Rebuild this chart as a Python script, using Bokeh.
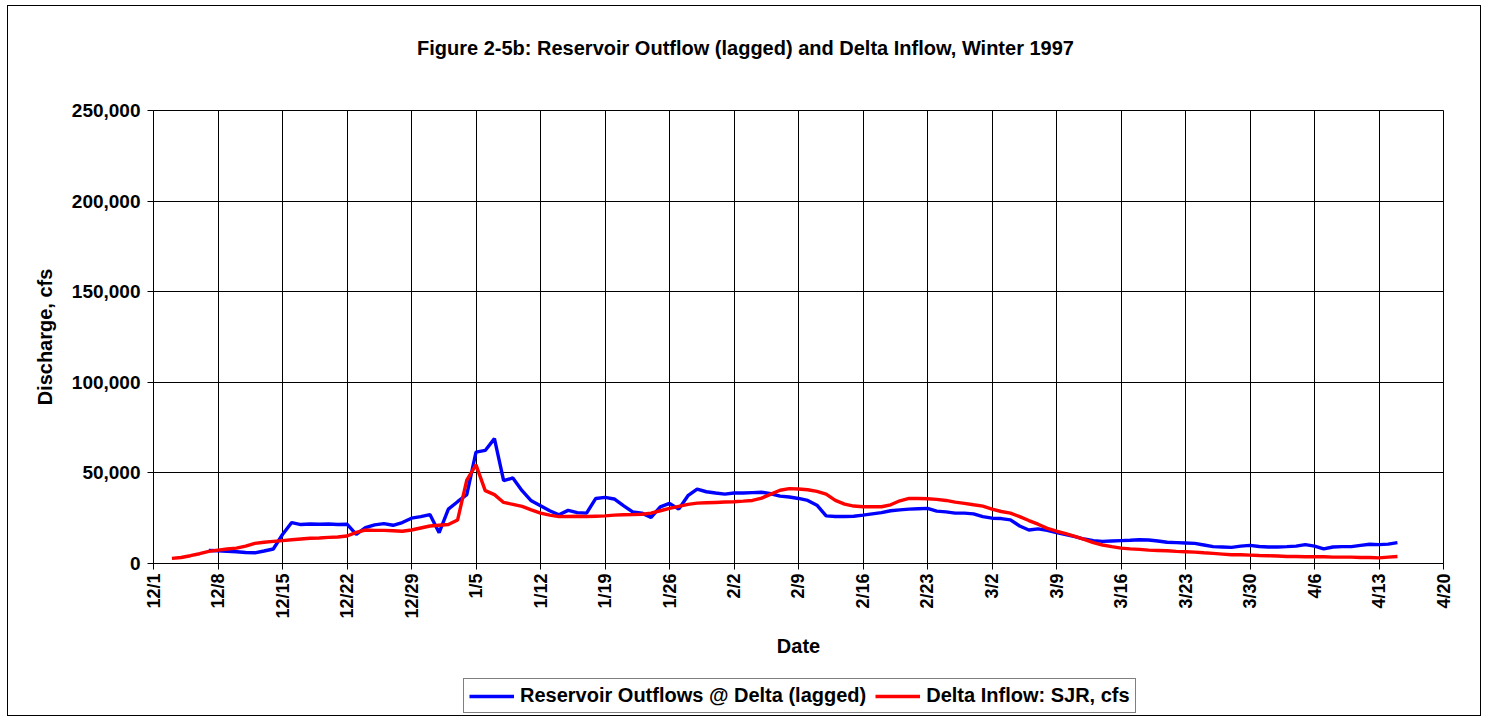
from datetime import datetime, timedelta
from bokeh.plotting import figure
from bokeh.layouts import column
from bokeh.models import (Range1d, FixedTicker, NumeralTickFormatter, CustomJSTickFormatter,
                          Legend, LegendItem, Label, ColumnDataSource)
from bokeh.embed import file_html
from bokeh.resources import INLINE

FONT = "Liberation Sans"

# ---- data (daily values, cfs) ----
outflow_start = "1996-12-07"
outflow = [7200, 7000, 6700, 6500, 6100, 5900, 6900, 8000, 16000, 22600,
           21500, 21800, 21700, 21800, 21500, 21700, 16100, 19800, 21300, 22000,
           21100, 22600, 25000, 25900, 27000, 17000, 30000, 34100, 38000, 61500,
           62400, 68900, 45700, 47200, 40200, 34600, 31900, 29100, 26900, 29300,
           28100, 27800, 35900, 36500, 35600, 31900, 28500, 27800, 25400, 31300,
           33200, 30000, 37400, 41100, 39600, 38900, 38300, 38900, 38900, 39100,
           39300, 38500, 37200, 36700, 35900, 34800, 32200, 26300, 25900, 25900,
           26100, 26700, 27400, 28100, 29100, 29600, 30000, 30200, 30400, 28900,
           28500, 27800, 27800, 27400, 25900, 25000, 24800, 24100, 20700, 18500,
           19100, 18300, 17000, 15900, 14800, 13500, 12600, 12200, 12400, 12600,
           12800, 13100, 13000, 12400, 11700, 11500, 11300, 11100, 10200, 9300,
           9100, 8900, 9600, 10000, 9400, 9100, 9100, 9300, 9600, 10400,
           9600, 8100, 9100, 9300, 9300, 10000, 10600, 10400, 10700, 11500]

inflow_start = "1996-12-03"
inflow = [2800, 3300, 4300, 5400, 6700, 7400, 8000, 8500, 9600, 11100,
          11700, 12200, 12600, 13100, 13500, 13900, 14100, 14400, 14600, 15200,
          17200, 18500, 18300, 18300, 18100, 17800, 18500, 19600, 20700, 21100,
          21500, 24000, 46000, 54400, 40200, 38000, 33700, 32600, 31500, 29600,
          27800, 26700, 25900, 25900, 26100, 25900, 26100, 26300, 26700, 26900,
          27000, 27200, 27800, 29100, 30400, 31500, 32600, 33300, 33500, 33700,
          33900, 34100, 34400, 34800, 36100, 38300, 40400, 41300, 41100, 40700,
          39800, 38300, 34800, 32800, 31700, 31300, 31300, 31300, 32400, 34600,
          35900, 35900, 35700, 35400, 34800, 33900, 33200, 32400, 31700, 30000,
          28700, 27800, 25900, 23700, 21700, 19400, 17800, 16500, 15000, 13300,
          11500, 10200, 9300, 8500, 8100, 7800, 7400, 7200, 7000, 6700,
          6500, 6300, 5900, 5600, 5200, 4800, 4800, 4600, 4400, 4300,
          4100, 3900, 3900, 3700, 3700, 3700, 3500, 3500, 3500, 3300,
          3300, 3100, 3500, 3900]

tick_dates = ["1996-12-01", "1996-12-08", "1996-12-15", "1996-12-22", "1996-12-29",
              "1997-01-05", "1997-01-12", "1997-01-19", "1997-01-26", "1997-02-02",
              "1997-02-09", "1997-02-16", "1997-02-23", "1997-03-02", "1997-03-09",
              "1997-03-16", "1997-03-23", "1997-03-30", "1997-04-06", "1997-04-13",
              "1997-04-20"]
y_ticks = [0, 50000, 100000, 150000, 200000, 250000]

series_names = ["Reservoir Outflows @ Delta (lagged)", "Delta Inflow: SJR, cfs"]
series_colors = ["#0000FF", "#FF0000"]
title_text = "Figure 2-5b: Reservoir Outflow (lagged) and Delta Inflow, Winter 1997"


def daily(start, n):
    s = datetime.strptime(start, "%Y-%m-%d")
    return [s + timedelta(days=i) for i in range(n)]


def ms(d):
    return (datetime.strptime(d, "%Y-%m-%d") - datetime(1970, 1, 1)).total_seconds() * 1000.0


def strip(h):
    f = figure(width=1472, height=h, min_border=0, x_range=Range1d(0, 1), y_range=Range1d(0, 1),
               output_backend="svg", toolbar_location=None)
    f.axis.visible = False
    f.grid.visible = False
    f.outline_line_color = None
    f.background_fill_color = "white"
    f.border_fill_color = "white"
    return f


src_out = ColumnDataSource(dict(x=daily(outflow_start, len(outflow)), y=outflow))
src_in = ColumnDataSource(dict(x=daily(inflow_start, len(inflow)), y=inflow))

# ---- title strip ----
tf = strip(60)
tf.add_layout(Label(x=592, y=19, x_units="screen", y_units="screen", text=title_text,
                    text_font=FONT, text_font_style="bold", text_font_size="20px",
                    text_align="center", text_baseline="middle", text_color="black"))

# ---- main chart ----
p = figure(frame_width=1290, frame_height=453,
           min_border_left=145, min_border_right=37, min_border_top=44, min_border_bottom=112,
           x_axis_type="datetime",
           x_range=Range1d(datetime(1996, 12, 1), datetime(1997, 4, 20)),
           y_range=Range1d(0, 250000),
           output_backend="svg", toolbar_location=None)

p.outline_line_color = "black"
p.outline_line_width = 1
p.background_fill_color = "white"
p.border_fill_color = "white"

p.xgrid.ticker = FixedTicker(ticks=[ms(d) for d in tick_dates])
p.ygrid.ticker = FixedTicker(ticks=y_ticks)
for g in (p.xgrid[0], p.ygrid[0]):
    g.grid_line_color = "black"
    g.grid_line_width = 1

xa = p.xaxis[0]
xa.ticker = FixedTicker(ticks=[ms(d) for d in tick_dates])
xa.formatter = CustomJSTickFormatter(code="""
const d = new Date(tick);
return (d.getUTCMonth() + 1) + '/' + d.getUTCDate();
""")
xa.major_label_orientation = 1.5707963
xa.axis_label = "Date"
ya = p.yaxis[0]
ya.ticker = FixedTicker(ticks=y_ticks)
ya.formatter = NumeralTickFormatter(format="0,0")
ya.axis_label = "Discharge, cfs"

for ax in (xa, ya):
    ax.axis_line_color = "black"
    ax.major_tick_line_color = "black"
    ax.major_tick_in = 0
    ax.major_tick_out = 6
    ax.minor_tick_line_color = None
    ax.major_label_text_font = FONT
    ax.major_label_text_font_style = "bold"
    ax.major_label_text_color = "black"
    ax.axis_label_text_font = FONT
    ax.axis_label_text_font_style = "bold"
    ax.axis_label_text_font_size = "20px"
    ax.axis_label_text_color = "black"
xa.major_label_text_font_size = "18px"
ya.major_label_text_font_size = "19px"
xa.major_label_standoff = 4
xa.axis_label_standoff = 13
ya.major_label_standoff = 7
ya.axis_label_standoff = 13

p.line("x", "y", source=src_out, line_color=series_colors[0], line_width=3.4)
p.line("x", "y", source=src_in, line_color=series_colors[1], line_width=3.4)

# ---- legend strip ----
lg = strip(40)
nan = float("nan")
lr = [lg.line([nan], [nan], line_color=c, line_width=3.4) for c in series_colors]
legend = Legend(items=[LegendItem(label=n, renderers=[r]) for n, r in zip(series_names, lr)],
                orientation="horizontal", location=(310, 2),
                label_text_font=FONT, label_text_font_style="bold",
                label_text_font_size="20px", label_text_color="black",
                glyph_width=45, glyph_height=20,
                label_standoff=6, spacing=9, padding=5, margin=0,
                border_line_color="black", border_line_width=1,
                background_fill_alpha=1.0)
lg.add_layout(legend, "center")

layout = column(tf, p, lg, spacing=0)
layout.styles = {"border": "1px solid black", "margin-left": "7px", "margin-top": "5px"}

open("out.html", "w").write(file_html(layout, INLINE))
